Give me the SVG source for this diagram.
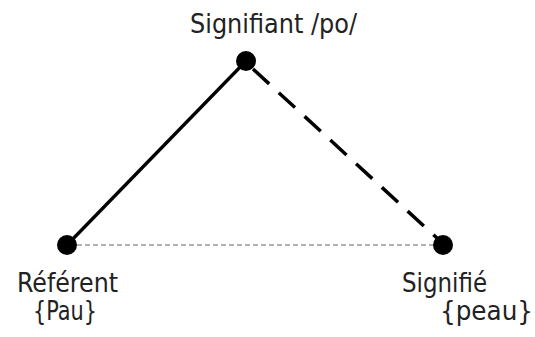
<svg xmlns="http://www.w3.org/2000/svg" width="535" height="337" viewBox="0 0 535 337">
<style>
text{font-family:"DejaVu Sans Condensed","DejaVu Sans","Liberation Sans",sans-serif;font-size:26px;fill:#222}
.dot{fill:#000}
</style>
<rect width="535" height="337" fill="#fff"/>
<g id="connectors">
<line x1="67" y1="245" x2="246" y2="61" stroke="#000" stroke-width="3.3"/>
<line x1="253" y1="69" x2="438" y2="239" stroke="#000" stroke-width="3.5" stroke-dasharray="22,13"/>
<line x1="77" y1="245" x2="434" y2="245" stroke="#999" stroke-width="1.5" stroke-dasharray="5,3"/>
</g>
<g id="signifiant">
<circle class="dot" cx="246" cy="61" r="10"/>
<text x="190" y="33" textLength="167" lengthAdjust="spacingAndGlyphs">Signifiant /po/</text>
</g>
<g id="referent">
<circle class="dot" cx="67" cy="245" r="10"/>
<text x="17" y="292" textLength="101" lengthAdjust="spacingAndGlyphs">Référent</text>
<text x="33" y="320" textLength="64" lengthAdjust="spacingAndGlyphs">{Pau}</text>
</g>
<g id="signifie">
<circle class="dot" cx="443" cy="245" r="10"/>
<text x="402" y="292" textLength="85" lengthAdjust="spacingAndGlyphs">Signifié</text>
<text x="440" y="320" textLength="93" lengthAdjust="spacingAndGlyphs">{peau}</text>
</g>
</svg>
